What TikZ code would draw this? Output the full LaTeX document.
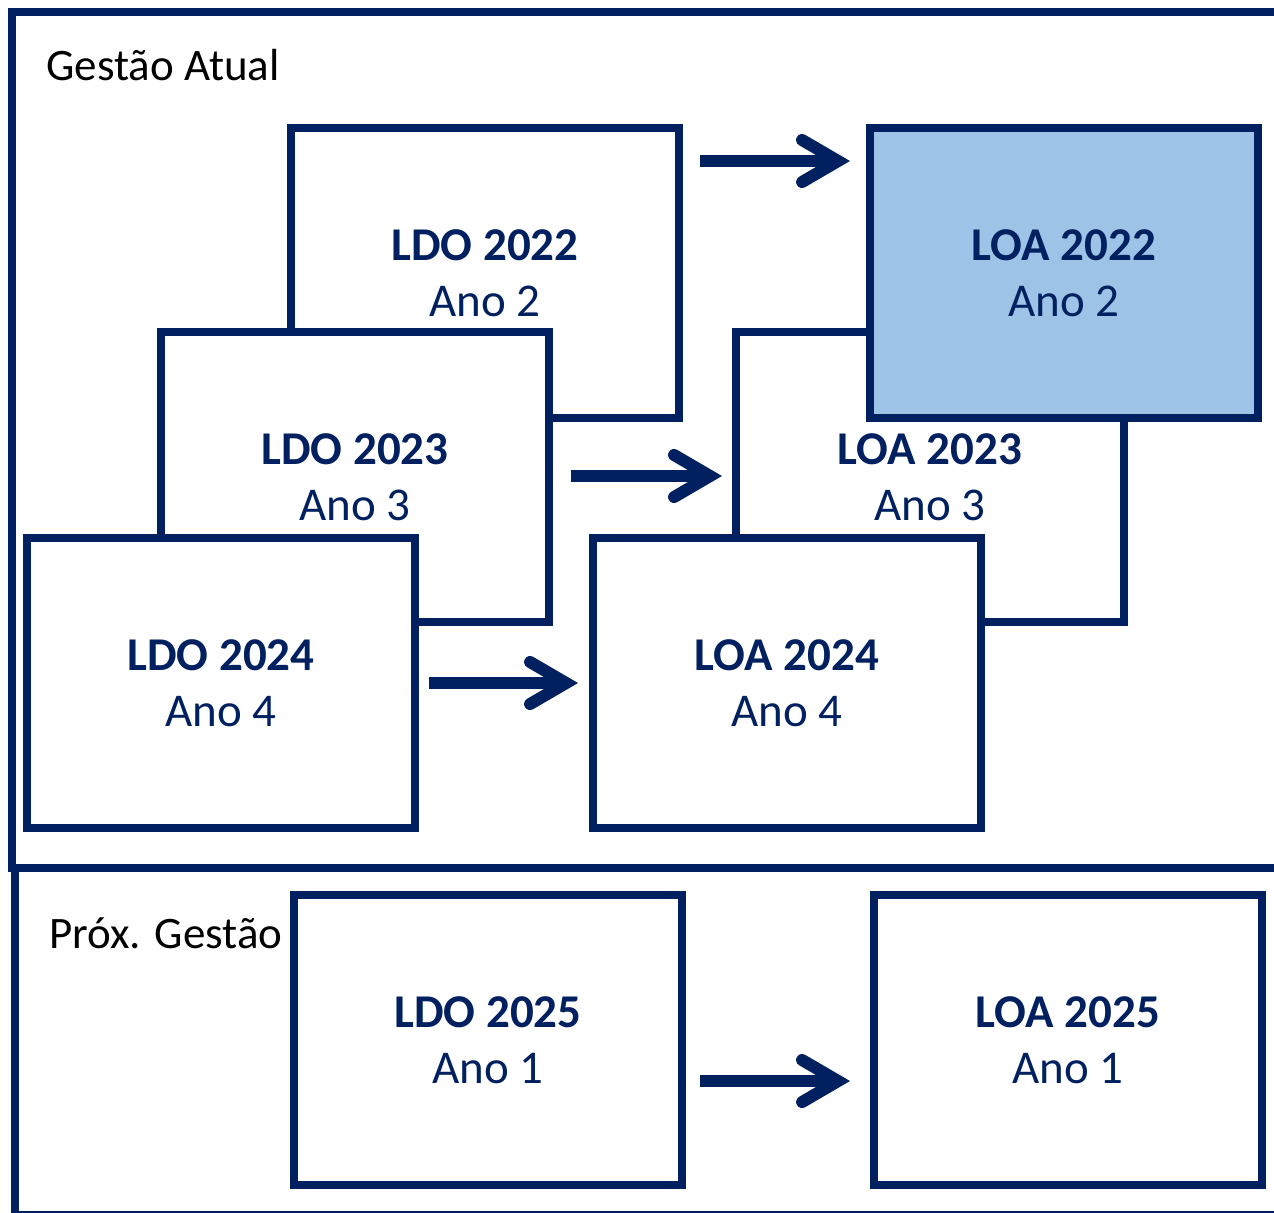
\documentclass[tikz,border=0pt]{standalone}
\usepackage{fontspec}
\setmainfont{Carlito}
\usetikzlibrary{arrows.meta}
\definecolor{navy}{HTML}{002060}
\definecolor{loablue}{HTML}{9DC3E6}
\tikzstyle{block} = [draw=navy, fill=white, rectangle, line width=4pt,
    minimum height=145pt, minimum width=194pt, inner sep=0pt, outer sep=0pt,
    text=navy, align=center, font=\fontsize{23.5}{28}\selectfont]
\tikzstyle{gestao} = [anchor=base west, inner sep=0pt, font=\fontsize{22.5}{26}\selectfont]
\tikzstyle{frame} = [draw=navy, line width=4pt]

\begin{document}
\begin{tikzpicture}[x=0.5pt, y=-0.5pt,
    >={Straight Barb[length=18pt, width=21pt, line cap=round, line join=miter]}]
\tikzstyle{seta} = [->, draw=navy, line width=6pt]
\useasboundingbox (0,0) rectangle (1274,1212);

% the two frames
\draw [frame] (15,868) rectangle (1300,1215);
\draw [frame] (12,12) rectangle (1300,868);

\node [gestao] (atual) at (46,80) {Gestão Atual};
\node [gestao] (prox) at (49,948) {Próx. Gestão};

% We start by placing the blocks (back to front)
\node [block] (ldo22) at (485,273) {\textbf{LDO 2022}\\Ano 2};
\node [block] (ldo23) at (355,477) {\textbf{LDO 2023}\\Ano 3};
\node [block] (ldo24) at (221,683) {\textbf{LDO 2024}\\Ano 4};
\node [block] (loa23) at (930,477) {\textbf{LOA 2023}\\Ano 3};
\node [block] (loa24) at (787,683) {\textbf{LOA 2024}\\Ano 4};
\node [block, fill=loablue] (loa22) at (1064,273) {\textbf{LOA 2022}\\Ano 2};
\node [block] (ldo25) at (488,1040) {\textbf{LDO 2025}\\Ano 1};
\node [block] (loa25) at (1068,1040) {\textbf{LOA 2025}\\Ano 1};

% then the arrows from LDO to LOA
\draw [seta, shorten <=10.5pt, shorten >=10pt] ([yshift=-16.5pt]ldo22.north east) -- ([yshift=-16.5pt]loa22.north west);
\draw [seta, shorten <=11pt, shorten >=7pt] ([yshift=0.5pt]ldo23.east) -- ([yshift=0.5pt]loa23.west);
\draw [seta, shorten <=7pt, shorten >=7.5pt] (ldo24.east) -- (loa24.west);
\draw [seta, shorten <=9pt, shorten >=12pt] ([yshift=-20.5pt]ldo25.east) -- ([yshift=-20.5pt]loa25.west);

\end{tikzpicture}
\end{document}
